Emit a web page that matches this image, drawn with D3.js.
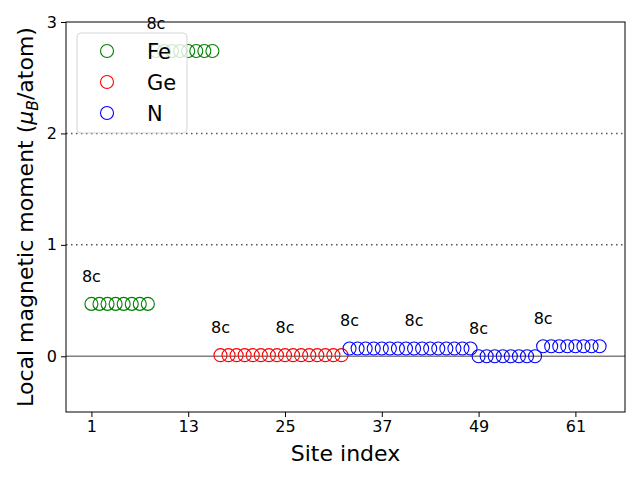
<!DOCTYPE html>
<html><head><meta charset="utf-8">
<script src="https://cdn.jsdelivr.net/npm/d3@7"></script>
<style>body{margin:0;background:#fff}svg{display:block;font-family:"DejaVu Sans",sans-serif}</style>
</head><body><svg id="c" width="640" height="480"></svg>
<script>
// Data
const feSites = [1,2,3,4,5,6,7,8,9,10,11,12,13,14,15,16];
const feMoments = [0.47,0.47,0.47,0.47,0.47,0.47,0.47,0.47,2.74,2.74,2.74,2.74,2.74,2.74,2.74,2.74];
const geSites = [17,18,19,20,21,22,23,24,25,26,27,28,29,30,31,32];
const geMoments = [0.01,0.01,0.01,0.01,0.01,0.01,0.01,0.01,0.01,0.01,0.01,0.01,0.01,0.01,0.01,0.01];
const nSites = [33,34,35,36,37,38,39,40,41,42,43,44,45,46,47,48,49,50,51,52,53,54,55,56,57,58,59,60,61,62,63,64];
const nMoments = [0.07,0.07,0.07,0.07,0.07,0.07,0.07,0.07,0.07,0.07,0.07,0.07,0.07,0.07,0.07,0.07,
                  0.00,0.00,0.00,0.00,0.00,0.00,0.00,0.00,0.09,0.09,0.09,0.09,0.09,0.09,0.09,0.09];
const labelSites = [1,9,17,25,33,41,49,57];
const labelMoments = [0.47,2.74,0.01,0.01,0.07,0.07,0.00,0.09];
const labelTexts = ["8c","8c","8c","8c","8c","8c","8c","8c"];
const xTicks = [1,13,25,37,49,61];
const yTicks = [0,1,2,3];
const refLines = [1,2];

const series = [
  {name:"Fe", color:"green", sites:feSites, vals:feMoments},
  {name:"Ge", color:"red", sites:geSites, vals:geMoments},
  {name:"N", color:"blue", sites:nSites, vals:nMoments}
];

const L=66, R=625, T=22, B=412;
const svg = d3.select("#c");
const x = d3.scaleLinear().domain([-2.15, 67.15]).range([L, R]);
const y = d3.scaleLinear().domain([-0.5, 3]).range([B, T]);

// reference lines
svg.selectAll(".ref").data(refLines).join("line")
  .attr("x1", L).attr("x2", R).attr("y1", d=>y(d)).attr("y2", d=>y(d))
  .attr("stroke", "#555").attr("stroke-width", 1.5).attr("stroke-dasharray", "1.5,3.5");
svg.append("line").attr("x1", L).attr("x2", R).attr("y1", y(0)).attr("y2", y(0))
  .attr("stroke", "gray").attr("stroke-width", 1.5);

// points
series.forEach(s => {
  svg.append("g").selectAll("circle").data(s.sites.map((d,i)=>[d, s.vals[i]])).join("circle")
    .attr("cx", d=>x(d[0])).attr("cy", d=>y(d[1])).attr("r", 6.5)
    .attr("fill", "none").attr("stroke", s.color).attr("stroke-width", 1.1);
});

// labels
svg.append("g").selectAll("text").data(labelSites.map((d,i)=>[d, labelMoments[i], labelTexts[i]])).join("text")
  .attr("x", d=>x(d[0])).attr("y", d=>y(d[1]+0.2)).attr("text-anchor","middle")
  .attr("font-size", 16).attr("fill","#000").text(d=>d[2]);

// axes
const xAxis = svg.append("g").attr("transform", `translate(0,${B})`)
  .call(d3.axisBottom(x).tickValues(xTicks).tickSize(5).tickPadding(4).tickFormat(d3.format("d")));
const yAxis = svg.append("g").attr("transform", `translate(${L},0)`)
  .call(d3.axisLeft(y).tickValues(yTicks).tickSize(5).tickPadding(4).tickFormat(d3.format("d")));
[xAxis, yAxis].forEach(a => {
  a.select(".domain").remove();
  a.selectAll("text").attr("font-size", 16).attr("font-family", "DejaVu Sans").attr("fill","#000");
  a.selectAll("line").attr("stroke","#000").attr("stroke-width",1);
});
svg.append("rect").attr("x", L).attr("y", T).attr("width", R-L).attr("height", B-T)
  .attr("fill","none").attr("stroke","#000").attr("stroke-width",1);

// axis labels
svg.append("text").attr("x", (L+R)/2).attr("y", 461).attr("text-anchor","middle")
  .attr("font-size", 22).text("Site index");
const yl = svg.append("text").attr("transform", `translate(33,${(T+B)/2}) rotate(-90)`)
  .attr("text-anchor","middle").attr("font-size", 22);
yl.append("tspan").text("Local magnetic moment (");
yl.append("tspan").attr("font-style","italic").text("μ");
yl.append("tspan").attr("font-style","italic").attr("font-size",15.5).attr("dy",5).text("B");
yl.append("tspan").attr("dy",-5).text("/atom)");

// legend
const lg = svg.append("g");
lg.append("rect").attr("x",77).attr("y",33).attr("width",110).attr("height",100).attr("rx",4)
  .attr("fill","white").attr("fill-opacity",0.8).attr("stroke","#ccc").attr("stroke-opacity",0.8);
series.forEach((s,i) => {
  const cy = 51 + i*31;
  lg.append("circle").attr("cx",107).attr("cy",cy).attr("r",6.5).attr("fill","none")
    .attr("stroke",s.color).attr("stroke-width",1.1);
  lg.append("text").attr("x",147).attr("y",cy+7.5).attr("font-size",21).text(s.name);
});
</script></body></html>
